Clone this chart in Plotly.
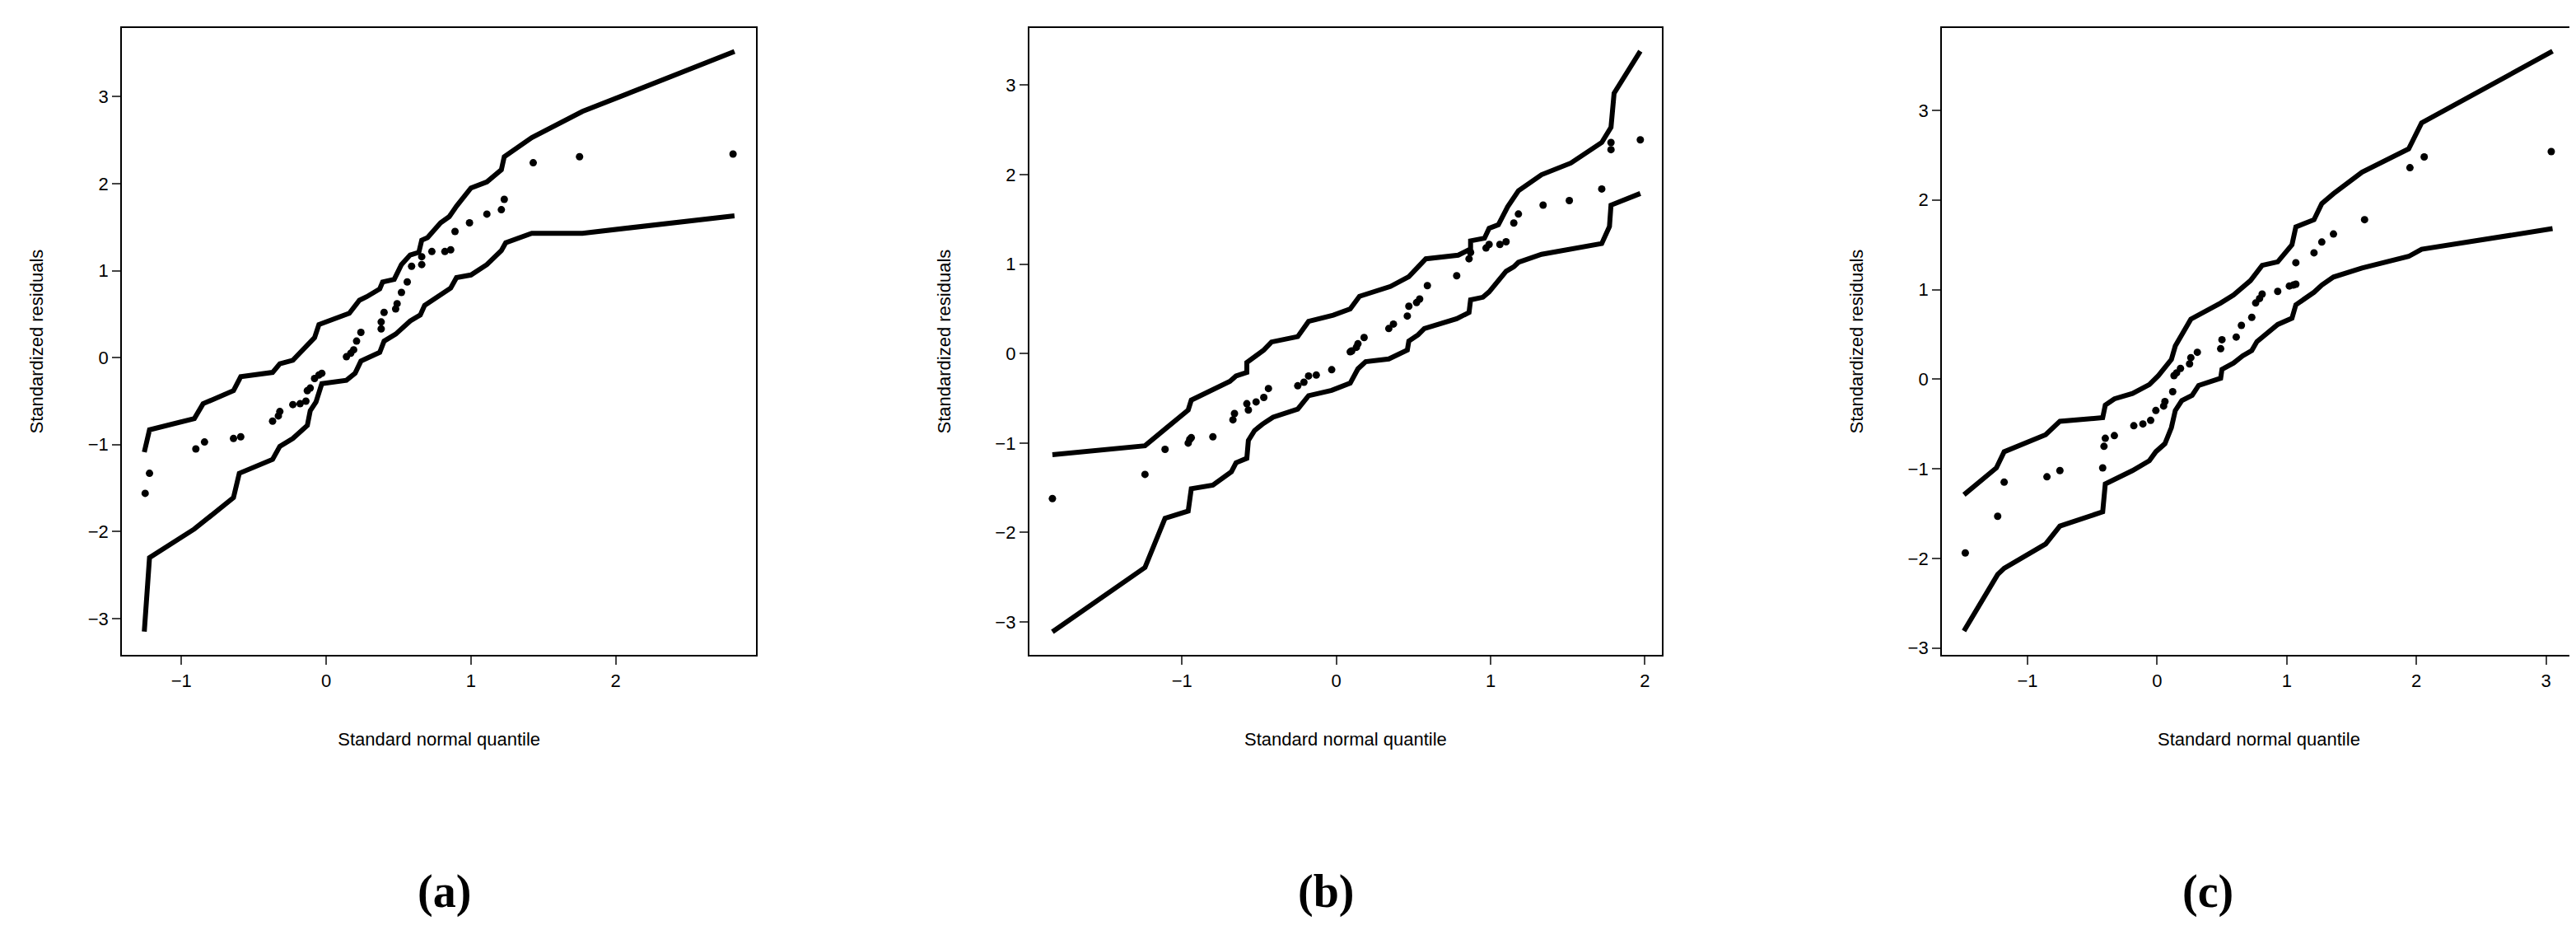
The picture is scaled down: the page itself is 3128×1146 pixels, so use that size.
import plotly.graph_objects as go

# ---- panel (a)
a_up_x = [-1.256, -1.22, -0.91, -0.85, -0.64, -0.59, -0.37, -0.32, -0.23, -0.08, -0.05, 0.16, 0.23, 0.28, 0.37, 0.39,
          0.47, 0.52, 0.58, 0.64, 0.66, 0.70, 0.79, 0.85, 0.90, 1.00, 1.11, 1.21, 1.23, 1.42, 1.77, 2.82]
a_up_y = [-1.086, -0.83, -0.70, -0.53, -0.38, -0.22, -0.17, -0.07, -0.03, 0.23, 0.38, 0.51, 0.66, 0.70, 0.79, 0.87,
          0.90, 1.07, 1.18, 1.21, 1.35, 1.38, 1.55, 1.62, 1.74, 1.95, 2.02, 2.16, 2.31, 2.53, 2.83, 3.52]
a_lo_x = [-1.256, -1.22, -0.91, -0.64, -0.60, -0.37, -0.32, -0.23, -0.13, -0.11, -0.07, -0.03, 0.14, 0.20, 0.24,
          0.37, 0.40, 0.48, 0.58, 0.65, 0.68, 0.86, 0.90, 1.00, 1.11, 1.21, 1.24, 1.42, 1.77, 2.82]
a_lo_y = [-3.15, -2.30, -1.97, -1.61, -1.33, -1.17, -1.02, -0.93, -0.78, -0.61, -0.51, -0.30, -0.26, -0.18, -0.04,
          0.06, 0.19, 0.27, 0.42, 0.49, 0.60, 0.80, 0.92, 0.95, 1.07, 1.23, 1.32, 1.43, 1.43, 1.63]
a_pt_x = [-1.25, -1.22, -0.90, -0.84, -0.64, -0.59, -0.37, -0.33, -0.32, -0.23, -0.18, -0.14, -0.13, -0.11, -0.08,
          -0.05, -0.03, 0.14, 0.17, 0.19, 0.21, 0.24, 0.38, 0.38, 0.40, 0.48, 0.49, 0.52, 0.56, 0.59, 0.66, 0.66,
          0.73, 0.82, 0.86, 0.89, 0.99, 1.11, 1.21, 1.23, 1.43, 1.75, 2.81]
a_pt_y = [-1.56, -1.33, -1.05, -0.97, -0.93, -0.91, -0.73, -0.67, -0.62, -0.54, -0.53, -0.50, -0.38, -0.35, -0.24,
          -0.20, -0.18, 0.01, 0.05, 0.09, 0.19, 0.29, 0.33, 0.41, 0.52, 0.56, 0.62, 0.75, 0.87, 1.05, 1.07, 1.16,
          1.22, 1.22, 1.24, 1.45, 1.55, 1.65, 1.70, 1.82, 2.24, 2.31, 2.34]

# ---- panel (b)
b_up_x = [-1.84, -1.24, -1.10, -0.96, -0.94, -0.69, -0.65, -0.58, -0.58, -0.47, -0.42, -0.25, -0.18, -0.02, 0.09,
          0.15, 0.35, 0.47, 0.58, 0.79, 0.87, 0.87, 0.96, 0.99, 1.05, 1.11, 1.18, 1.33, 1.52, 1.72, 1.78, 1.80, 1.97]
b_up_y = [-1.13, -1.03, -0.83, -0.63, -0.52, -0.31, -0.25, -0.21, -0.10, 0.04, 0.13, 0.19, 0.36, 0.43, 0.50,
          0.64, 0.75, 0.86, 1.06, 1.10, 1.17, 1.26, 1.29, 1.40, 1.44, 1.64, 1.82, 2.00, 2.13, 2.36, 2.53, 2.91, 3.38]
b_lo_x = [-1.84, -1.24, -1.11, -0.96, -0.94, -0.80, -0.68, -0.65, -0.58, -0.57, -0.53, -0.48, -0.41, -0.25, -0.18,
          -0.03, 0.09, 0.14, 0.19, 0.34, 0.46, 0.47, 0.53, 0.57, 0.78, 0.86, 0.87, 0.95, 0.99, 1.06, 1.10, 1.15,
          1.18, 1.33, 1.72, 1.77, 1.78, 1.97]
b_lo_y = [-3.11, -2.39, -1.84, -1.76, -1.51, -1.47, -1.32, -1.22, -1.17, -0.97, -0.86, -0.79, -0.71, -0.62, -0.47,
          -0.41, -0.33, -0.17, -0.09, -0.06, 0.04, 0.14, 0.21, 0.28, 0.39, 0.46, 0.60, 0.63, 0.69, 0.83, 0.92, 0.97,
          1.02, 1.11, 1.23, 1.42, 1.66, 1.79]
b_pt_x = [-1.84, -1.24, -1.11, -0.96, -0.95, -0.94, -0.80, -0.67, -0.66, -0.58, -0.57, -0.52, -0.47, -0.44, -0.25,
          -0.21, -0.18, -0.13, -0.03, 0.09, 0.10, 0.13, 0.14, 0.18, 0.34, 0.37, 0.46, 0.47, 0.52, 0.54, 0.59, 0.78,
          0.86, 0.87, 0.97, 0.99, 1.06, 1.10, 1.15, 1.18, 1.34, 1.51, 1.72, 1.78, 1.78, 1.97]
b_pt_y = [-1.62, -1.35, -1.07, -1.00, -0.96, -0.94, -0.93, -0.74, -0.67, -0.56, -0.63, -0.54, -0.49, -0.39, -0.36,
          -0.32, -0.25, -0.24, -0.18, 0.02, 0.03, 0.07, 0.11, 0.18, 0.28, 0.33, 0.42, 0.53, 0.57, 0.61, 0.76, 0.87,
          1.06, 1.13, 1.18, 1.22, 1.22, 1.25, 1.46, 1.56, 1.66, 1.71, 1.84, 2.28, 2.36, 2.39]

# ---- panel (c)
c_up_x = [-1.49, -1.24, -1.18, -0.86, -0.75, -0.42, -0.40, -0.33, -0.19, -0.06, 0.01, 0.11, 0.14, 0.19, 0.26,
          0.49, 0.59, 0.72, 0.81, 0.93, 1.04, 1.07, 1.21, 1.27, 1.36, 1.58, 1.94, 2.04, 3.05]
c_up_y = [-1.29, -0.99, -0.81, -0.62, -0.47, -0.43, -0.29, -0.22, -0.16, -0.06, 0.04, 0.22, 0.37, 0.49, 0.67,
          0.85, 0.94, 1.10, 1.27, 1.31, 1.50, 1.70, 1.78, 1.96, 2.07, 2.31, 2.57, 2.86, 3.66]
c_lo_x = [-1.49, -1.23, -1.18, -0.86, -0.75, -0.42, -0.40, -0.19, -0.06, -0.01, 0.06, 0.11, 0.14, 0.19, 0.27,
          0.32, 0.49, 0.50, 0.59, 0.66, 0.73, 0.77, 0.93, 1.04, 1.07, 1.21, 1.27, 1.36, 1.58, 1.94, 2.04, 3.05]
c_lo_y = [-2.81, -2.18, -2.11, -1.84, -1.64, -1.48, -1.17, -1.02, -0.91, -0.81, -0.72, -0.54, -0.35, -0.24, -0.18,
          -0.07, 0.01, 0.11, 0.18, 0.26, 0.32, 0.42, 0.61, 0.68, 0.83, 0.97, 1.05, 1.14, 1.24, 1.37, 1.45, 1.68]
c_pt_x = [-1.48, -1.23, -1.18, -0.85, -0.75, -0.42, -0.41, -0.40, -0.33, -0.18, -0.11, -0.05, -0.01, 0.05, 0.06,
          0.12, 0.13, 0.15, 0.18, 0.25, 0.26, 0.31, 0.49, 0.50, 0.61, 0.65, 0.73, 0.76, 0.79, 0.81, 0.93, 1.02,
          1.05, 1.07, 1.07, 1.21, 1.27, 1.36, 1.60, 1.95, 2.06, 3.04]
c_pt_y = [-1.94, -1.53, -1.15, -1.09, -1.02, -0.99, -0.75, -0.66, -0.63, -0.52, -0.50, -0.46, -0.35, -0.30, -0.25,
          -0.14, 0.04, 0.07, 0.12, 0.17, 0.24, 0.30, 0.34, 0.44, 0.47, 0.60, 0.69, 0.85, 0.90, 0.95, 0.98, 1.04,
          1.05, 1.06, 1.30, 1.41, 1.53, 1.62, 1.78, 2.36, 2.48, 2.54]

panel_labels = ["(a)", "(b)", "(c)"]
x_ranges = [[-1.41, 2.97], [-1.99, 2.11], [-1.66, 3.23]]
y_ranges = [[-3.42, 3.79], [-3.37, 3.64], [-3.08, 3.92]]
x_domains = [[0.0448, 0.291], [0.397, 0.6426], [0.7513, 0.9974]]
label_x = [0.159, 0.512, 0.865]

panels = [
    (a_up_x, a_up_y, a_lo_x, a_lo_y, a_pt_x, a_pt_y),
    (b_up_x, b_up_y, b_lo_x, b_lo_y, b_pt_x, b_pt_y),
    (c_up_x, c_up_y, c_lo_x, c_lo_y, c_pt_x, c_pt_y),
]

fig = go.Figure()
font = dict(family="Liberation Sans, Arial, sans-serif", size=22, color="black")

for i, (ux, uy, lx, ly, px, py) in enumerate(panels):
    n = "" if i == 0 else str(i + 1)
    line = dict(color="black", width=6)
    fig.add_trace(go.Scatter(x=ux, y=uy, mode="lines", line=line, xaxis="x" + n, yaxis="y" + n))
    fig.add_trace(go.Scatter(x=lx, y=ly, mode="lines", line=line, xaxis="x" + n, yaxis="y" + n))
    fig.add_trace(go.Scatter(x=px, y=py, mode="markers", marker=dict(color="black", size=9),
                             xaxis="x" + n, yaxis="y" + n))
    ax = dict(showline=True, linecolor="black", linewidth=2, mirror=True, showgrid=False, zeroline=False,
              ticks="outside", ticklen=10, tickwidth=2, tickfont=font)
    fig.layout["xaxis" + n] = dict(ax, domain=x_domains[i], range=x_ranges[i], dtick=1,
                                   anchor="y" + n, title=dict(text="Standard normal quantile", font=font, standoff=52))
    fig.layout["yaxis" + n] = dict(ax, domain=[0.3106, 0.9773], range=y_ranges[i], dtick=1,
                                   anchor="x" + n, title=dict(text="Standardized residuals", font=font, standoff=48))
    fig.add_annotation(text="<b>" + panel_labels[i] + "</b>", x=label_x[i], y=0.03, xref="paper", yref="paper",
                       showarrow=False, font=dict(family="Liberation Serif, serif", size=56, color="black"))

fig.update_layout(width=3128, height=1146, margin=dict(l=0, r=0, t=0, b=0), showlegend=False,
                  plot_bgcolor="white", paper_bgcolor="white")
fig.write_html("out.html")
